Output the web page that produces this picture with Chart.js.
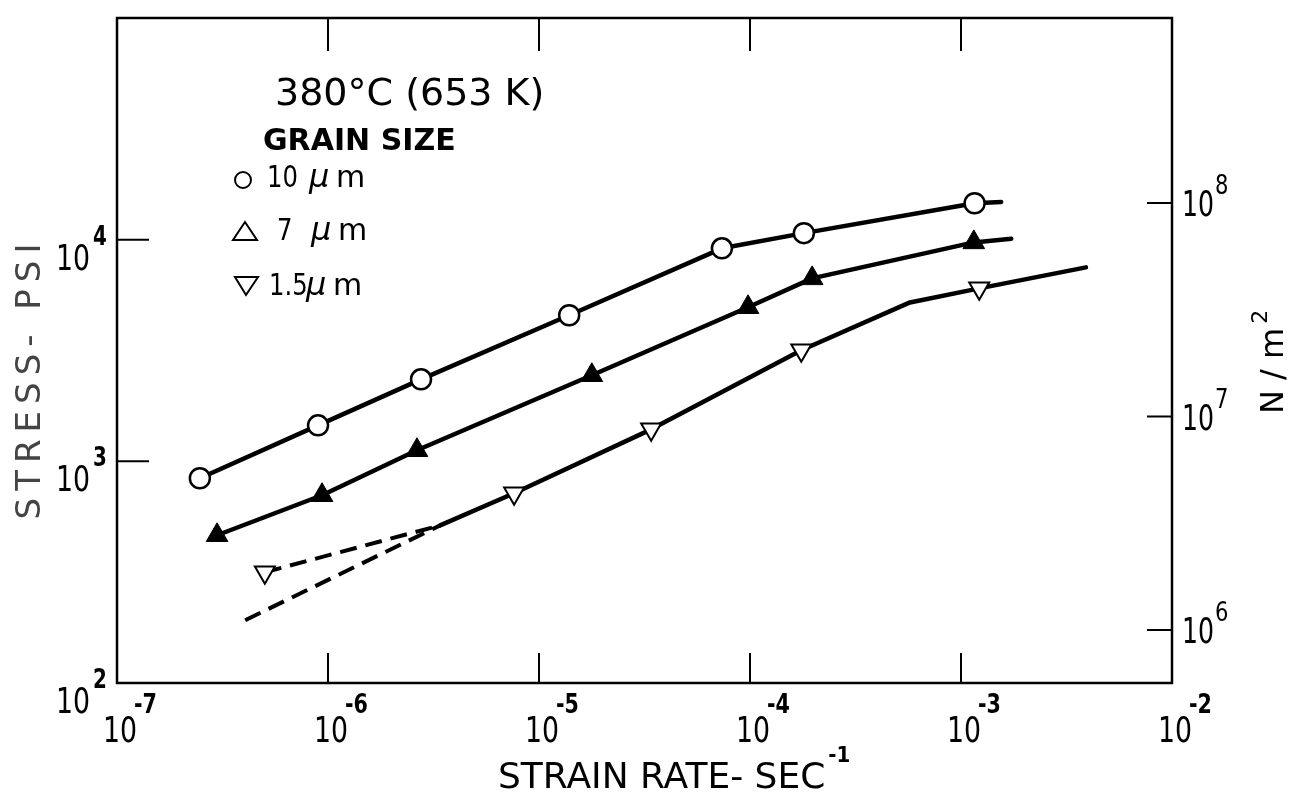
<!DOCTYPE html>
<html>
<head>
<meta charset="utf-8">
<title>Stress vs strain rate, 380°C</title>
<script src="https://cdn.jsdelivr.net/npm/chart.js@4/dist/chart.umd.min.js"></script>
<style>
  html, body { margin: 0; padding: 0; background: #fff; }
  #chart { display: block; }
</style>
</head>
<body>
<canvas id="chart" width="1293" height="799"></canvas>
<script>
// ---- data (strain rate in 1/s, stress in psi) ----
const rate10um = [2.47e-7, 8.97e-7, 2.76e-6, 1.39e-5, 7.36e-5, 1.8e-4, 1.16e-3];
const stress10um = [839, 1453, 2344, 4560, 9140, 10700, 14600];
const rate10umEnd = 1.55e-3;
const stress10umEnd = 14800;

const rate7um = [2.98e-7, 9.37e-7, 2.64e-6, 1.78e-5, 9.79e-5, 1.97e-4, 1.15e-3];
const stress7um = [464, 703, 1122, 2445, 4955, 6690, 9720];
const rate7umEnd = 1.73e-3;
const stress7umEnd = 10100;

// 1.5 um: measured points, the solid curve and the two dashed extrapolations
const rate1p5um = [5.02e-7, 7.62e-6, 3.4e-5, 1.75e-4, 1.22e-3];
const stress1p5um = [316, 718, 1394, 3170, 6030];
const rate1p5umCurve = [3.4e-6, 7.62e-6, 3.4e-5, 1.75e-4, 5.73e-4, 1.22e-3, 3.91e-3];
const stress1p5umCurve = [514, 718, 1394, 3170, 5210, 6030, 7500];
const rateDashUpper = [5.02e-7, 3.4e-6];
const stressDashUpper = [316, 514];
const rateDashLower = [4.05e-7, 3.4e-6];
const stressDashLower = [192, 514];

// axis decades (exponents)
const rateExps = [-7, -6, -5, -4, -3, -2];
const psiExps = [2, 3, 4];
const nm2Exps = [6, 7, 8];
// right axis (N/m^2) range as drawn on the figure
const nm2Min = 5.65e5;
const nm2Max = 7.36e8;

const COND = '"DejaVu Sans Condensed", "Liberation Sans Narrow", sans-serif';
const SANS = '"DejaVu Sans", "Noto Sans", sans-serif';

function pts(xs, ys) {
  return xs.map((x, i) => ({ x, y: ys[i] }));
}

// lettering on the original is tall and narrow: squeeze text horizontally
function squeezed(ctx, text, x, y, sx, align) {
  ctx.save();
  ctx.translate(x, y);
  ctx.scale(sx, 1);
  ctx.textAlign = align || "left";
  ctx.fillText(text, 0, 0);
  ctx.restore();
}

const paperAxes = {
  id: "paperAxes",
  afterDraw(chart) {
    const { ctx, chartArea: a, scales } = chart;
    ctx.save();
    ctx.fillStyle = "#000";
    ctx.strokeStyle = "#000";
    ctx.lineCap = "butt";

    // frame
    ctx.lineWidth = 2.5;
    ctx.strokeRect(a.left, a.top, a.right - a.left, a.bottom - a.top);

    // inward tick marks
    ctx.lineWidth = 2;
    ctx.beginPath();
    rateExps.slice(1, -1).forEach((e) => {
      const px = scales.x.getPixelForValue(10 ** e);
      ctx.moveTo(px, a.bottom);
      ctx.lineTo(px, a.bottom - 30);
      ctx.moveTo(px, a.top);
      ctx.lineTo(px, a.top + 33);
    });
    psiExps.slice(1).forEach((e) => {
      const py = scales.y.getPixelForValue(10 ** e);
      ctx.moveTo(a.left, py);
      ctx.lineTo(a.left + 32, py);
    });
    nm2Exps.forEach((e) => {
      const py = scales.y2.getPixelForValue(10 ** e);
      ctx.moveTo(a.right, py);
      ctx.lineTo(a.right - 25, py);
    });
    ctx.stroke();

    // x tick labels
    rateExps.forEach((e) => {
      const px = scales.x.getPixelForValue(10 ** e);
      ctx.font = `35px ${COND}`;
      squeezed(ctx, "10", px + 3, a.bottom + 59, 0.85, "center");
      ctx.font = `bold 27px ${COND}`;
      squeezed(ctx, String(e), px + 17, a.bottom + 30, 0.85);
    });

    // left (psi) tick labels
    psiExps.forEach((e) => {
      const py = scales.y.getPixelForValue(10 ** e);
      ctx.font = `35px ${COND}`;
      squeezed(ctx, "10", 90, py + 30, 0.85, "right");
      ctx.font = `bold 26px ${COND}`;
      squeezed(ctx, String(e), 93, py + 5, 0.85);
    });

    // right (N/m^2) tick labels
    nm2Exps.forEach((e) => {
      const py = scales.y2.getPixelForValue(10 ** e);
      ctx.font = `35px ${COND}`;
      squeezed(ctx, "10", 1182, py + 13, 0.8);
      ctx.font = `26px ${COND}`;
      squeezed(ctx, String(e), 1215, py - 9, 0.9);
    });

    // x title
    ctx.font = `36px ${SANS}`;
    ctx.textAlign = "left";
    const xt = "STRAIN RATE- SEC";
    ctx.fillText(xt, 498, 788);
    const xtw = ctx.measureText(xt).width;
    ctx.font = `bold 22px ${COND}`;
    ctx.fillText("-1", 498 + xtw + 3, 762);

    // left title
    ctx.save();
    ctx.translate(40, 378);
    ctx.rotate(-Math.PI / 2);
    ctx.font = `34px ${SANS}`;
    ctx.fillStyle = "#444";
    ctx.letterSpacing = "7px";
    ctx.textAlign = "center";
    ctx.fillText("STRESS- PSI", 0, 0);
    ctx.restore();

    // right title
    ctx.save();
    ctx.translate(1283, 414);
    ctx.rotate(-Math.PI / 2);
    ctx.font = `32px ${SANS}`;
    ctx.textAlign = "left";
    ctx.fillText("N / m", 0, 0);
    const nw = ctx.measureText("N / m").width;
    ctx.font = `22px ${SANS}`;
    ctx.fillText("2", nw + 4, -16);
    ctx.restore();

    // annotation + legend
    ctx.textAlign = "left";
    ctx.font = `38px ${SANS}`;
    ctx.fillText("380°C (653 K)", 275, 105);
    ctx.font = `bold 30px ${SANS}`;
    ctx.fillText("GRAIN SIZE", 263, 150);

    ctx.lineWidth = 2;
    ctx.beginPath();
    ctx.arc(243, 180, 8, 0, Math.PI * 2);
    ctx.stroke();
    ctx.beginPath();
    ctx.moveTo(245, 222);
    ctx.lineTo(257, 240);
    ctx.lineTo(233, 240);
    ctx.closePath();
    ctx.stroke();
    ctx.beginPath();
    ctx.moveTo(235, 277);
    ctx.lineTo(258, 277);
    ctx.lineTo(246, 295);
    ctx.closePath();
    ctx.stroke();

    const rows = [
      ["10", 267, 309, 187],
      ["7", 277, 311, 240],
      ["1.5", 269, 306, 295],
    ];
    rows.forEach(([txt, tx, mx, by]) => {
      ctx.font = `30px ${COND}`;
      squeezed(ctx, txt, tx, by, 0.9);
      ctx.font = `italic 32px ${SANS}`;
      ctx.fillText("μ", mx, by);
      ctx.font = `30px ${SANS}`;
      ctx.fillText("m", mx + 27, by);
    });

    ctx.restore();
  },
};

const ctx = document.getElementById("chart").getContext("2d");

function fixedSize(prop, value) {
  return (scale) => {
    scale[prop] = value;
  };
}

const hiddenAxis = {
  type: "logarithmic",
  ticks: { display: false },
  grid: { display: false },
  border: { display: false },
};

const solidLine = {
  showLine: true,
  borderColor: "#000",
  borderWidth: 4.5,
  borderJoinStyle: "round",
  borderCapStyle: "round",
};

const dashedLine = {
  showLine: true,
  borderColor: "#000",
  borderWidth: 4,
  borderDash: [17, 9],
  pointRadius: 0,
};

new Chart(ctx, {
  type: "scatter",
  data: {
    datasets: [
      {
        label: "1.5 um points",
        data: pts(rate1p5um, stress1p5um),
        showLine: false,
        pointStyle: "triangle",
        rotation: 180,
        pointRadius: 11.5,
        pointBackgroundColor: "#fff",
        pointBorderColor: "#000",
        pointBorderWidth: 2,
        order: 0,
      },
      {
        ...solidLine,
        label: "10 um",
        data: pts(rate10um, stress10um).concat([{ x: rate10umEnd, y: stress10umEnd }]),
        pointStyle: "circle",
        pointRadius: (c) => (c.dataIndex < rate10um.length ? 10 : 0),
        pointBackgroundColor: "#fff",
        pointBorderColor: "#000",
        pointBorderWidth: 2.5,
        order: 1,
      },
      {
        ...solidLine,
        label: "7 um",
        data: pts(rate7um, stress7um).concat([{ x: rate7umEnd, y: stress7umEnd }]),
        pointStyle: "triangle",
        pointRadius: (c) => (c.dataIndex < rate7um.length ? 12.5 : 0),
        pointBackgroundColor: "#000",
        pointBorderColor: "#000",
        pointBorderWidth: 1,
        order: 2,
      },
      {
        ...solidLine,
        label: "1.5 um curve",
        data: pts(rate1p5umCurve, stress1p5umCurve),
        pointRadius: 0,
        order: 3,
      },
      {
        ...dashedLine,
        label: "1.5 um dashed upper",
        data: pts(rateDashUpper, stressDashUpper),
        order: 4,
      },
      {
        ...dashedLine,
        label: "1.5 um dashed lower",
        data: pts(rateDashLower, stressDashLower),
        order: 5,
      },
    ],
  },
  options: {
    responsive: false,
    animation: false,
    layout: { padding: 0 },
    plugins: {
      legend: { display: false },
      tooltip: { enabled: false },
    },
    scales: {
      x: { ...hiddenAxis, position: "bottom", min: 1e-7, max: 1e-2, afterFit: fixedSize("height", 116) },
      xTop: { ...hiddenAxis, position: "top", min: 1e-7, max: 1e-2, afterFit: fixedSize("height", 18) },
      y: { ...hiddenAxis, position: "left", min: 1e2, max: 1e5, afterFit: fixedSize("width", 117) },
      y2: { ...hiddenAxis, position: "right", min: nm2Min, max: nm2Max, afterFit: fixedSize("width", 121) },
    },
  },
  plugins: [paperAxes],
});
</script>
</body>
</html>
